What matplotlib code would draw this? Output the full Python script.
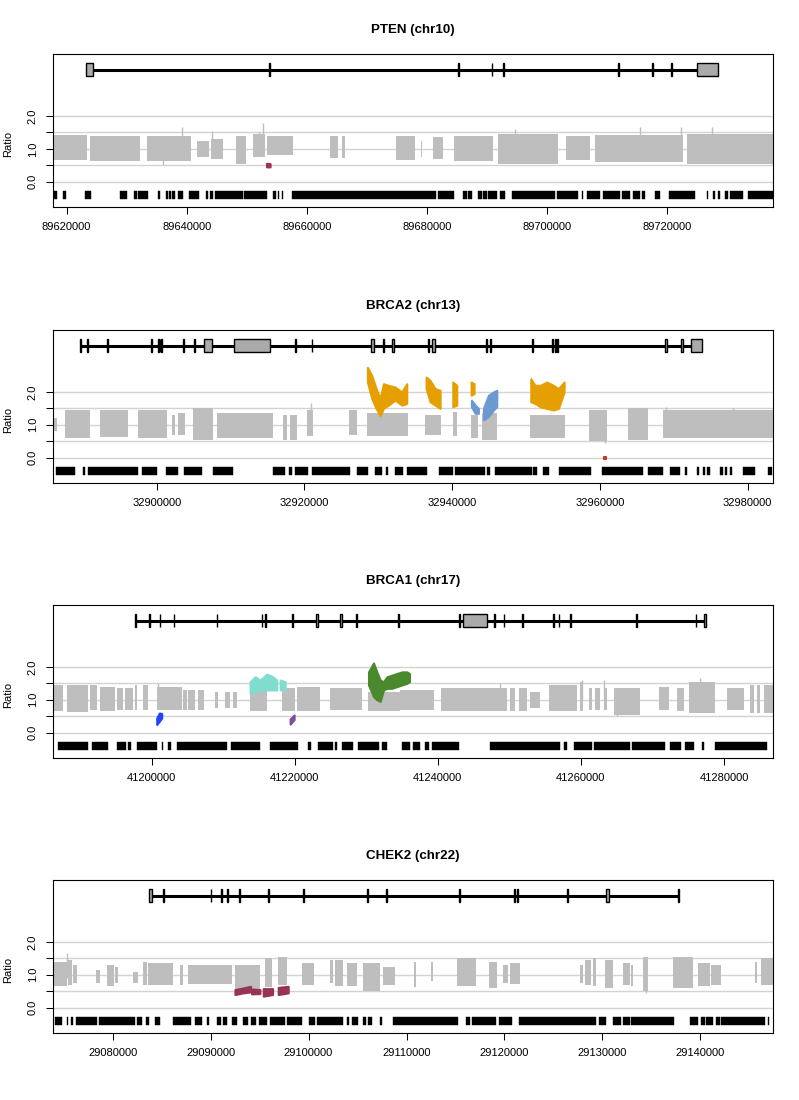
import matplotlib
matplotlib.use("Agg")
import matplotlib.pyplot as plt
from matplotlib.patches import Rectangle
from matplotlib.transforms import blended_transform_factory

plt.rcParams['font.family'] = ['Liberation Sans', 'DejaVu Sans']

GREY = '#bebebe'

# ---------------- PTEN (chr10) ----------------
pten_xlim = (89617717, 89737717)
pten_xticks = [89620000, 89640000, 89660000, 89680000, 89700000, 89720000]
pten_gene = (89623195, 89728532)
pten_exons = [(89623195, 89624305), (89653782, 89653866), (89685270, 89685314),
              (89690803, 89690846), (89692770, 89692904), (89711875, 89712016),
              (89717610, 89717776), (89720651, 89720875), (89725044, 89728532)]
pten_grey = [(89617778, 89623444, 0.65, 1.42), (89623889, 89632222, 0.62, 1.38),
             (89633333, 89640667, 0.62, 1.38), (89641778, 89643778, 0.75, 1.25),
             (89644000, 89646000, 0.70, 1.30), (89648222, 89649889, 0.55, 1.40),
             (89651000, 89653056, 0.75, 1.45), (89653333, 89657778, 0.80, 1.40),
             (89663889, 89665278, 0.72, 1.40), (89665833, 89666389, 0.72, 1.38),
             (89674889, 89678056, 0.65, 1.38), (89679000, 89679278, 0.75, 1.25),
             (89681111, 89682778, 0.70, 1.35), (89684611, 89691111, 0.62, 1.40),
             (89691944, 89701944, 0.55, 1.45), (89703167, 89707222, 0.65, 1.40),
             (89708056, 89722778, 0.60, 1.42), (89723444, 89737778, 0.55, 1.45)]
pten_spikes = [(89639167, 0.9, 1.65), (89644167, 1.0, 1.55), (89652778, 1.0, 1.80),
               (89652000, 0.8, 1.50), (89694722, 1.0, 1.60), (89715556, 1.0, 1.65),
               (89722389, 1.0, 1.65), (89727500, 1.0, 1.65), (89636000, 0.5, 1.0)]
pten_segments = [('#a0304f', [(89653300, 0.45, 0.56), (89653900, 0.45, 0.55)])]
pten_probes = [(89617889, 89618444), (89619444, 89619833), (89623111, 89624056),
               (89628889, 89630000), (89631278, 89631667), (89631944, 89633611),
               (89635278, 89635556), (89636500, 89636833), (89637056, 89637333),
               (89637556, 89638056), (89638611, 89639333), (89640444, 89642111),
               (89643222, 89643611), (89643889, 89644444), (89644722, 89649444),
               (89649611, 89653333), (89654444, 89654889), (89655167, 89655444),
               (89655833, 89656111), (89657500, 89681500), (89681900, 89684500),
               (89686111, 89686667), (89686944, 89687500), (89688611, 89689167),
               (89689444, 89690000), (89690278, 89691667), (89692222, 89693056),
               (89694167, 89701389), (89701667, 89705278), (89705833, 89706111),
               (89706667, 89708889), (89709444, 89712222), (89712500, 89713889),
               (89714444, 89715556), (89715944, 89716389), (89718056, 89718889),
               (89720444, 89724722), (89726667, 89726944), (89727778, 89728056),
               (89728611, 89728889), (89729722, 89730278), (89730556, 89732778),
               (89733611, 89737778)]

# ---------------- BRCA2 (chr13) ----------------
brca2_xlim = (32885958, 32983426)
brca2_xticks = [32900000, 32920000, 32940000, 32960000, 32980000]
brca2_gene = (32889617, 32973809)
brca2_exons = [(32889617, 32889804), (32890559, 32890664), (32893214, 32893462),
               (32899213, 32899321), (32900238, 32900287), (32900379, 32900419),
               (32900636, 32900750), (32903580, 32903629), (32905056, 32905167),
               (32906409, 32907524), (32910402, 32915333), (32918695, 32918790),
               (32920964, 32921033), (32928998, 32929425), (32930565, 32930746),
               (32931879, 32932066), (32936660, 32936830), (32937316, 32937670),
               (32944539, 32944694), (32945093, 32945237), (32950807, 32950928),
               (32953454, 32953652), (32953887, 32954050), (32954144, 32954282),
               (32968826, 32969070), (32971035, 32971181), (32972299, 32973809)]
brca2_grey = [(32886010, 32886551, 0.80, 1.20), (32887589, 32890974, 0.60, 1.45),
              (32892328, 32896164, 0.62, 1.45), (32897518, 32901354, 0.60, 1.45),
              (32902031, 32902482, 0.70, 1.30), (32902933, 32903836, 0.70, 1.35),
              (32904964, 32907672, 0.55, 1.50), (32908123, 32915796, 0.60, 1.35),
              (32917149, 32917601, 0.55, 1.30), (32918052, 32918955, 0.55, 1.30),
              (32920309, 32921211, 0.65, 1.45), (32926085, 32927168, 0.70, 1.45),
              (32928432, 32934071, 0.65, 1.35), (32936328, 32938449, 0.70, 1.30),
              (32940074, 32940615, 0.65, 1.40), (32942556, 32943549, 0.60, 1.30),
              (32943999, 32946031, 0.55, 1.35), (32950544, 32955282, 0.60, 1.30),
              (32958577, 32960924, 0.50, 1.45), (32963766, 32966565, 0.55, 1.50),
              (32968596, 32983489, 0.60, 1.45)]
brca2_spikes = [(32920900, 0.7, 1.65), (32960700, 0.45, 1.0), (32968900, 1.0, 1.55),
                (32978000, 1.0, 1.50)]
brca2_segments = [
    ('#e69f00', [(32928522, 2.30, 2.75), (32929109, 1.80, 2.50), (32929695, 1.50, 2.10),
                 (32930237, 1.28, 1.80), (32930688, 1.50, 2.25), (32931365, 1.60, 2.20),
                 (32932268, 1.75, 2.15), (32933169, 1.60, 2.00), (32933846, 1.65, 2.25)]),
    ('#e69f00', [(32936463, 2.10, 2.45), (32937005, 1.70, 2.35), (32937682, 1.60, 2.10),
                 (32938359, 1.50, 2.05)]),
    ('#e69f00', [(32940074, 1.55, 2.30), (32940615, 1.60, 2.20)]),
    ('#e69f00', [(32942556, 1.90, 2.30), (32942962, 1.95, 2.25)]),
    ('#6a9ad0', [(32942600, 1.55, 1.75), (32943100, 1.35, 1.60), (32943549, 1.35, 1.50)]),
    ('#6a9ad0', [(32944226, 1.15, 1.50), (32944900, 1.25, 1.90), (32945580, 1.45, 2.00),
                 (32946031, 1.55, 2.05)]),
    ('#e69f00', [(32950634, 1.70, 2.40), (32951220, 1.65, 2.20), (32951898, 1.55, 2.20),
                 (32952800, 1.50, 2.30), (32953703, 1.45, 2.20), (32954380, 1.50, 2.10),
                 (32955147, 2.00, 2.30)]),
    ('#d7301f', [(32960550, -0.03, 0.03), (32960850, -0.03, 0.03)]),
]
brca2_probes = [(32886371, 32888943), (32890071, 32890297), (32890748, 32897518),
                (32897969, 32900000), (32901219, 32902933), (32903746, 32906093),
                (32907582, 32910290), (32915705, 32917375), (32917962, 32918278),
                (32918729, 32920534), (32920985, 32926175), (32927078, 32928658),
                (32929560, 32930463), (32931049, 32931365), (32932268, 32933394),
                (32933846, 32936553), (32938268, 32940164), (32940389, 32944451),
                (32944767, 32945128), (32945805, 32950769), (32950995, 32951536),
                (32952349, 32953161), (32954515, 32958757), (32960247, 32965888),
                (32966475, 32968596), (32969498, 32970852), (32971529, 32971845),
                (32973109, 32973425), (32973922, 32974237), (32974553, 32974914),
                (32976268, 32976720), (32976945, 32977170), (32977622, 32977938),
                (32979337, 32981007), (32982812, 32983264)]

# ---------------- BRCA1 (chr17) ----------------
brca1_xlim = (41186196, 41286853)
brca1_xticks = [41200000, 41220000, 41240000, 41260000, 41280000]
brca1_gene = (41197646, 41277500)
brca1_exons = [(41197646, 41197819), (41199660, 41199720), (41201138, 41201211),
               (41203080, 41203134), (41209069, 41209152), (41215350, 41215390),
               (41215891, 41215968), (41219625, 41219712), (41222945, 41223255),
               (41226348, 41226538), (41228505, 41228631), (41234421, 41234592),
               (41242961, 41243049), (41243452, 41246877), (41247863, 41247939),
               (41249261, 41249306), (41251792, 41251897), (41256139, 41256278),
               (41256885, 41256973), (41258473, 41258550), (41267743, 41267796),
               (41276034, 41276132), (41277198, 41277500)]
brca1_grey = [(41186247, 41187646, 0.65, 1.45), (41188112, 41191142, 0.62, 1.45),
              (41191375, 41192308, 0.70, 1.45), (41192774, 41194872, 0.65, 1.40),
              (41195105, 41196037, 0.70, 1.35), (41196270, 41197436, 0.70, 1.35),
              (41197669, 41197995, 0.70, 1.45), (41198835, 41199534, 0.70, 1.45),
              (41200699, 41204196, 0.68, 1.40), (41204429, 41204895, 0.70, 1.30),
              (41205128, 41206061, 0.70, 1.30), (41206527, 41207319, 0.70, 1.30),
              (41208858, 41209324, 0.75, 1.25), (41210256, 41210956, 0.75, 1.25),
              (41211422, 41211981, 0.75, 1.25), (41213753, 41216084, 0.65, 1.30),
              (41218182, 41220047, 0.65, 1.35), (41220280, 41223543, 0.65, 1.40),
              (41224942, 41226807, 0.70, 1.35), (41226807, 41229371, 0.68, 1.35),
              (41230303, 41234732, 0.65, 1.25), (41234732, 41239390, 0.70, 1.30),
              (41240416, 41249646, 0.65, 1.35), (41250113, 41250812, 0.65, 1.35),
              (41251278, 41252444, 0.65, 1.35), (41252910, 41254308, 0.75, 1.25),
              (41255474, 41259437, 0.65, 1.45), (41259903, 41260276, 0.65, 1.55),
              (41261068, 41261535, 0.70, 1.35), (41262001, 41262700, 0.70, 1.35),
              (41263166, 41263632, 0.70, 1.35), (41264565, 41268294, 0.55, 1.35),
              (41270858, 41272257, 0.70, 1.40), (41273423, 41274355, 0.65, 1.35),
              (41275054, 41278784, 0.60, 1.55), (41280416, 41282747, 0.70, 1.35),
              (41283586, 41284145, 0.60, 1.45), (41284611, 41285078, 0.60, 1.45),
              (41285544, 41286942, 0.60, 1.45)]
brca1_spikes = [(41248714, 1.0, 1.50), (41260135, 1.0, 1.60), (41263166, 1.0, 1.60),
                (41276686, 1.0, 1.65), (41265030, 0.5, 1.0), (41200900, 1.0, 1.50)]
brca1_segments = [
    ('#1f45fc', [(41200699, 0.25, 0.45), (41201070, 0.35, 0.60), (41201399, 0.45, 0.58)]),
    ('#7fdccf', [(41213753, 1.20, 1.55), (41214452, 1.25, 1.70), (41215152, 1.30, 1.60),
                 (41216084, 1.30, 1.78), (41216783, 1.30, 1.72), (41217483, 1.30, 1.60)]),
    ('#7fdccf', [(41217949, 1.30, 1.60), (41218648, 1.30, 1.55)]),
    ('#7e4e99', [(41219347, 0.26, 0.42), (41219907, 0.40, 0.54)]),
    ('#4b8a2c', [(41230303, 1.45, 1.85), (41231002, 1.10, 2.12), (41231469, 1.00, 1.85),
                 (41231935, 0.95, 1.60), (41232401, 1.30, 1.55), (41232867, 1.35, 1.70),
                 (41233566, 1.35, 1.75), (41234266, 1.40, 1.80), (41234961, 1.45, 1.85),
                 (41235660, 1.50, 1.85), (41236033, 1.55, 1.80)]),
]
brca1_probes = [(41186946, 41191142), (41191608, 41193939), (41195105, 41196410),
                (41196737, 41197063), (41197902, 41200699), (41201399, 41201538),
                (41202331, 41202657), (41203497, 41210490), (41211049, 41215152),
                (41216550, 41220513), (41221911, 41222237), (41223310, 41225408),
                (41225641, 41225874), (41226573, 41228205), (41228904, 41231702),
                (41232168, 41232867), (41235000, 41236127), (41236593, 41237525),
                (41238225, 41238691), (41239157, 41242887), (41247315, 41257106),
                (41257572, 41258038), (41258970, 41261535), (41261768, 41266896),
                (41267129, 41271791), (41272490, 41273982), (41274588, 41275847),
                (41276919, 41277152), (41278784, 41286010)]

# ---------------- CHEK2 (chr22) ----------------
chek2_xlim = (29073908, 29147418)
chek2_xticks = [29080000, 29090000, 29100000, 29110000, 29120000, 29130000, 29140000]
chek2_gene = (29083707, 29137822)
chek2_exons = [(29083707, 29084047), (29085120, 29085220), (29089990, 29090080),
               (29091080, 29091170), (29091690, 29091780), (29092880, 29092970),
               (29095840, 29095930), (29099480, 29099570), (29105970, 29106060),
               (29107910, 29108000), (29115320, 29115420), (29120965, 29121112),
               (29121231, 29121355), (29126409, 29126481), (29130391, 29130715),
               (29137757, 29137822)]
chek2_grey = [(29073946, 29075307, 0.65, 1.40), (29075477, 29075817, 0.70, 1.45),
              (29075987, 29076395, 0.75, 1.30), (29078300, 29078708, 0.75, 1.15),
              (29079456, 29080136, 0.65, 1.30), (29080238, 29080578, 0.75, 1.25),
              (29082109, 29082619, 0.75, 1.10), (29083129, 29083469, 0.70, 1.40),
              (29083639, 29086190, 0.70, 1.35), (29086870, 29087210, 0.70, 1.30),
              (29087720, 29092142, 0.72, 1.30), (29092482, 29095033, 0.55, 1.30),
              (29095543, 29096223, 0.62, 1.50), (29096903, 29097753, 0.70, 1.55),
              (29099284, 29100564, 0.70, 1.35), (29102175, 29102515, 0.75, 1.45),
              (29102685, 29103535, 0.65, 1.45), (29103875, 29104895, 0.65, 1.35),
              (29105576, 29107276, 0.50, 1.35), (29107616, 29108806, 0.70, 1.25),
              (29110745, 29110949, 0.62, 1.40), (29112548, 29112718, 0.80, 1.40),
              (29115167, 29117139, 0.65, 1.50), (29118432, 29119248, 0.60, 1.40),
              (29119860, 29120370, 0.75, 1.30), (29120540, 29121561, 0.72, 1.35),
              (29127682, 29128023, 0.75, 1.30), (29128193, 29128873, 0.70, 1.45),
              (29129043, 29129383, 0.65, 1.50), (29130233, 29131083, 0.60, 1.45),
              (29132104, 29132784, 0.70, 1.35), (29132954, 29133124, 0.65, 1.30),
              (29134144, 29134654, 0.50, 1.55), (29137205, 29139246, 0.60, 1.55),
              (29139756, 29140946, 0.65, 1.35), (29141116, 29142137, 0.70, 1.30),
              (29145538, 29145776, 0.75, 1.40), (29146218, 29147408, 0.70, 1.50)]
chek2_spikes = [(29075307, 0.9, 1.65), (29096000, 1.0, 1.50), (29097600, 1.0, 1.55),
                (29134500, 0.45, 1.0)]
chek2_segments = [
    ('#993355', [(29092482, 0.40, 0.55), (29093300, 0.45, 0.60), (29094080, 0.48, 0.65)]),
    ('#993355', [(29094182, 0.42, 0.57), (29095033, 0.43, 0.55)]),
    ('#993355', [(29095373, 0.35, 0.58), (29096325, 0.40, 0.58)]),
    ('#993355', [(29096903, 0.40, 0.62), (29097923, 0.45, 0.65)]),
]
chek2_probes = [(29074116, 29074796), (29075307, 29075477), (29075749, 29075919),
                (29076259, 29078368), (29078640, 29082279), (29082517, 29082959),
                (29083401, 29083741), (29084319, 29084829), (29086122, 29087958),
                (29088400, 29089081), (29089591, 29089863), (29090679, 29091019),
                (29091223, 29091631), (29092142, 29092652), (29093332, 29093842),
                (29094080, 29094624), (29094964, 29095713), (29096053, 29097583),
                (29097821, 29099284), (29100066, 29100644), (29100882, 29103535),
                (29103875, 29104147), (29104385, 29105065), (29105576, 29105848),
                (29106086, 29106426), (29107276, 29107548), (29108636, 29115269),
                (29116051, 29116459), (29116731, 29119180), (29119452, 29120812),
                (29121493, 29129383), (29129655, 29130335), (29131083, 29131933),
                (29132104, 29132784), (29132954, 29137273), (29138906, 29139756),
                (29140096, 29140436), (29140606, 29141286), (29141558, 29141966),
                (29142137, 29146558), (29146898, 29147000)]


def panel(ax, title, xlim, xticks, gene, exons, grey, spikes, segments, probes):
    for y in [0, 0.5, 1, 1.5, 2]:
        ax.axhline(y, color='#d3d3d3', lw=1, zorder=0)

    for x0, x1, lo, hi in grey:
        ax.fill_between([x0, x1], [lo, lo], [hi, hi], color=GREY, lw=0, zorder=1)
    for x, lo, hi in spikes:
        ax.vlines(x, lo, hi, color=GREY, lw=1, zorder=1)

    for col, pts in segments:
        xs = [p[0] for p in pts]
        ax.fill_between(xs, [p[1] for p in pts], [p[2] for p in pts],
                        color=col, lw=1.5, edgecolor=col, zorder=2)

    ax.broken_barh([(s, e - s) for s, e in probes], (-0.52, 0.23),
                   facecolor='black', edgecolor='black', lw=0.3, zorder=2)

    ax.plot(gene, [3.4, 3.4], color='black', lw=2.2, solid_capstyle='butt', zorder=3)
    for s, e in exons:
        ax.add_patch(Rectangle((s, 3.2), e - s, 0.4, facecolor='#aaaaaa',
                               edgecolor='black', lw=1, zorder=4))

    ax.set_xlim(*xlim)
    ax.set_ylim(-0.77, 3.88)
    ax.set_xticks(xticks)
    ax.set_xticklabels([str(t) for t in xticks])
    ax.set_yticks([0, 0.5, 1, 1.5, 2])
    ax.set_yticklabels(['0.0', '', '1.0', '', '2.0'])
    ax.tick_params(axis='y', labelrotation=90, length=5, width=0.75, pad=6, labelsize=8)
    ax.tick_params(axis='x', length=5, width=0.75, pad=6, labelsize=8)
    for lab in ax.get_yticklabels():
        lab.set_verticalalignment('center')
    for sp in ax.spines.values():
        sp.set_linewidth(0.8)
    ax.set_title(title, fontsize=9.6, fontweight='bold', pad=15)
    tr = blended_transform_factory(ax.transAxes, ax.transData)
    ax.text(-0.062, 1.15, 'Ratio', transform=tr, rotation=90,
            ha='center', va='center', fontsize=8)


fig = plt.figure(figsize=(7.99, 11.0), dpi=100)
bottoms = [0.8118, 0.5609, 0.3109, 0.0609]
axes = [fig.add_axes([0.0663, b, 0.9012, 0.139]) for b in bottoms]

panel(axes[0], 'PTEN (chr10)', pten_xlim, pten_xticks, pten_gene, pten_exons,
      pten_grey, pten_spikes, pten_segments, pten_probes)
panel(axes[1], 'BRCA2 (chr13)', brca2_xlim, brca2_xticks, brca2_gene, brca2_exons,
      brca2_grey, brca2_spikes, brca2_segments, brca2_probes)
panel(axes[2], 'BRCA1 (chr17)', brca1_xlim, brca1_xticks, brca1_gene, brca1_exons,
      brca1_grey, brca1_spikes, brca1_segments, brca1_probes)
panel(axes[3], 'CHEK2 (chr22)', chek2_xlim, chek2_xticks, chek2_gene, chek2_exons,
      chek2_grey, chek2_spikes, chek2_segments, chek2_probes)

fig.savefig('out.png', dpi=100)
